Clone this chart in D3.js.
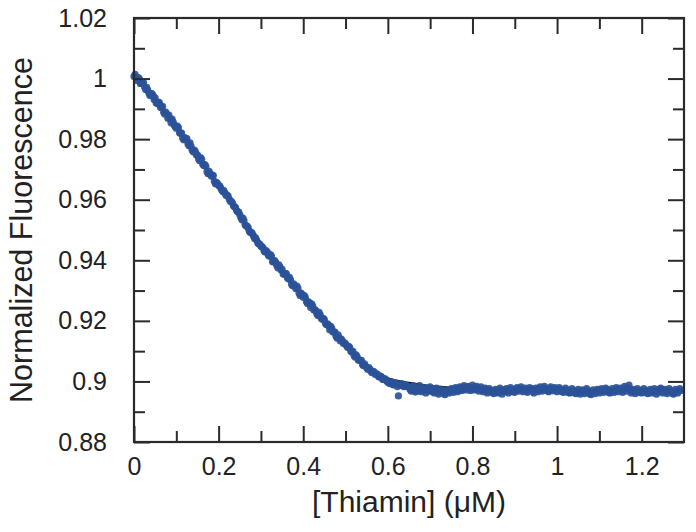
<!DOCTYPE html>
<html>
<head>
<meta charset="utf-8">
<script src="https://cdn.jsdelivr.net/npm/d3@7/dist/d3.min.js"></script>
<style>
  html, body { margin: 0; padding: 0; background: #fff; }
  svg { display: block; }
  text { font-family: "Liberation Sans", Arial, Helvetica, sans-serif; fill: #222; }
</style>
</head>
<body>
<svg id="chart" width="696" height="532"></svg>
<script>
// ---------- data ----------
const xStep = 0.005;          // titration step (µM)
// readings at 0, 0.005, 0.010, ...
const measured = [
  1.0007, 1.0005, 1.0003, 0.9984, 0.9984, 0.9972, 0.9971, 0.9952, 0.9947, 0.9944,
  0.9936, 0.9918, 0.9921, 0.9905, 0.9889, 0.9889, 0.9869, 0.9868, 0.9866, 0.9847,
  0.9836, 0.9838, 0.9820, 0.9804, 0.9805, 0.9802, 0.9778, 0.9776, 0.9758, 0.9759,
  0.9748, 0.9729, 0.9733, 0.9713, 0.9710, 0.9686, 0.9686, 0.9681, 0.9661, 0.9657,
  0.9647, 0.9639, 0.9627, 0.9622, 0.9615, 0.9602, 0.9595, 0.9580, 0.9574, 0.9560,
  0.9551, 0.9534, 0.9531, 0.9513, 0.9507, 0.9492, 0.9488, 0.9472, 0.9466, 0.9455,
  0.9446, 0.9441, 0.9427, 0.9427, 0.9413, 0.9414, 0.9397, 0.9393, 0.9375, 0.9378,
  0.9370, 0.9354, 0.9356, 0.9339, 0.9335, 0.9316, 0.9316, 0.9315, 0.9292, 0.9292,
  0.9278, 0.9278, 0.9257, 0.9259, 0.9256, 0.9236, 0.9233, 0.9218, 0.9221, 0.9205,
  0.9204, 0.9187, 0.9185, 0.9182, 0.9163, 0.9163, 0.9143, 0.9144, 0.9140, 0.9125,
  0.9124, 0.9112, 0.9112, 0.9098, 0.9086, 0.9088, 0.9071, 0.9070, 0.9056, 0.9058,
  0.9045, 0.9046, 0.9034, 0.9033, 0.9024, 0.9024, 0.9015, 0.9015, 0.9007, 0.9006,
  0.8998, 0.8993, 0.8998, 0.8989, 0.8993, 0.8952, 0.8987, 0.8991, 0.8985, 0.8986,
  0.8982, 0.8968, 0.8985, 0.8965, 0.8978, 0.8986, 0.8966, 0.8980, 0.8962, 0.8978,
  0.8982, 0.8966, 0.8962, 0.8978, 0.8958, 0.8975, 0.8964, 0.8956, 0.8972, 0.8962,
  0.8976, 0.8964, 0.8980, 0.8966, 0.8982, 0.8970, 0.8986, 0.8972, 0.8984, 0.8970,
  0.8988, 0.8972, 0.8984, 0.8968, 0.8982, 0.8966, 0.8978, 0.8962, 0.8976, 0.8964,
  0.8960, 0.8974, 0.8962, 0.8978, 0.8958, 0.8972, 0.8976, 0.8962, 0.8980, 0.8966,
  0.8964, 0.8980, 0.8968, 0.8982, 0.8966, 0.8978, 0.8964, 0.8980, 0.8976, 0.8962,
  0.8978, 0.8966, 0.8982, 0.8968, 0.8984, 0.8972, 0.8966, 0.8982, 0.8969, 0.8980,
  0.8966, 0.8980, 0.8968, 0.8964, 0.8978, 0.8966, 0.8962, 0.8976, 0.8964, 0.8960,
  0.8974, 0.8958, 0.8972, 0.8960, 0.8976, 0.8962, 0.8956, 0.8972, 0.8960, 0.8974,
  0.8962, 0.8976, 0.8964, 0.8978, 0.8966, 0.8962, 0.8976, 0.8964, 0.8980, 0.8966,
  0.8978, 0.8964, 0.8984, 0.8968, 0.8988, 0.8962, 0.8974, 0.8960, 0.8976, 0.8964,
  0.8962, 0.8976, 0.8964, 0.8960, 0.8974, 0.8962, 0.8976, 0.8958, 0.8972, 0.8978,
  0.8962, 0.8974, 0.8960, 0.8976, 0.8964, 0.8958, 0.8974, 0.8962, 0.8976
];
// readings at 0.0025, 0.0075, 0.0125, ...
const measuredMid = [
  1.0014, 0.9994, 1.0000, 0.9984, 0.9987, 0.9964, 0.9962, 0.9944, 0.9950, 0.9931,
  0.9919, 0.9922, 0.9905, 0.9908, 0.9883, 0.9882, 0.9879, 0.9854, 0.9857, 0.9841,
  0.9843, 0.9821, 0.9820, 0.9798, 0.9799, 0.9785, 0.9788, 0.9763, 0.9764, 0.9748,
  0.9735, 0.9739, 0.9717, 0.9716, 0.9692, 0.9694, 0.9678, 0.9680, 0.9653, 0.9653,
  0.9646, 0.9631, 0.9630, 0.9615, 0.9612, 0.9595, 0.9590, 0.9577, 0.9564, 0.9559,
  0.9541, 0.9539, 0.9517, 0.9513, 0.9496, 0.9492, 0.9480, 0.9474, 0.9457, 0.9453,
  0.9445, 0.9431, 0.9432, 0.9417, 0.9419, 0.9395, 0.9399, 0.9383, 0.9385, 0.9368,
  0.9355, 0.9356, 0.9342, 0.9344, 0.9320, 0.9322, 0.9306, 0.9308, 0.9284, 0.9287,
  0.9283, 0.9264, 0.9263, 0.9244, 0.9249, 0.9237, 0.9222, 0.9228, 0.9209, 0.9208,
  0.9191, 0.9190, 0.9171, 0.9175, 0.9163, 0.9149, 0.9154, 0.9134, 0.9134, 0.9127,
  0.9118, 0.9116, 0.9100, 0.9099, 0.9081, 0.9081, 0.9070, 0.9070, 0.9052, 0.9050,
  0.9040, 0.9041, 0.9029, 0.9032, 0.9024, 0.9017, 0.9018, 0.9007, 0.9009, 0.9001,
  0.8995, 0.8999, 0.8989, 0.8995, 0.8983, 0.8990, 0.8992, 0.8983, 0.8987, 0.8982,
  0.8974, 0.8980, 0.8970, 0.8976, 0.8968, 0.8974, 0.8978, 0.8970, 0.8975, 0.8969,
  0.8970, 0.8975, 0.8968, 0.8964, 0.8970, 0.8966, 0.8960, 0.8968, 0.8965, 0.8970,
  0.8970, 0.8974, 0.8971, 0.8976, 0.8974, 0.8978, 0.8975, 0.8980, 0.8976, 0.8979,
  0.8980, 0.8976, 0.8978, 0.8974, 0.8972, 0.8974, 0.8969, 0.8971, 0.8968, 0.8970,
  0.8967, 0.8966, 0.8970, 0.8968, 0.8966, 0.8970, 0.8969, 0.8973, 0.8970, 0.8972,
  0.8972, 0.8974, 0.8975, 0.8972, 0.8971, 0.8969, 0.8973, 0.8971, 0.8967, 0.8970,
  0.8972, 0.8975, 0.8974, 0.8977, 0.8976, 0.8969, 0.8975, 0.8976, 0.8973, 0.8972,
  0.8974, 0.8972, 0.8966, 0.8971, 0.8970, 0.8963, 0.8969, 0.8970, 0.8962, 0.8967,
  0.8966, 0.8965, 0.8967, 0.8968, 0.8969, 0.8960, 0.8964, 0.8966, 0.8968, 0.8969,
  0.8969, 0.8970, 0.8971, 0.8972, 0.8964, 0.8969, 0.8970, 0.8972, 0.8973, 0.8971,
  0.8970, 0.8974, 0.8976, 0.8978, 0.8975, 0.8968, 0.8967, 0.8968, 0.8970, 0.8966,
  0.8969, 0.8970, 0.8962, 0.8967, 0.8968, 0.8969, 0.8966, 0.8965, 0.8975, 0.8970,
  0.8968, 0.8967, 0.8968, 0.8970, 0.8961, 0.8966, 0.8968, 0.8969, 0.8970
];

const fitX = [0, 0.05, 0.1, 0.15, 0.2, 0.25, 0.3, 0.35, 0.4, 0.45, 0.5, 0.55, 0.6, 0.65, 0.7, 0.8, 0.9, 1.0, 1.1, 1.2, 1.3];
const fitY = [1.0015, 0.9930, 0.9840, 0.9745, 0.9645, 0.9548, 0.9452, 0.9365, 0.9280, 0.9200, 0.9115, 0.9048, 0.9010, 0.8995, 0.8985, 0.8976, 0.8973, 0.8971, 0.8970, 0.8969, 0.8968];

const xMajorTicks = [0, 0.2, 0.4, 0.6, 0.8, 1.0, 1.2];
const xMinorTicks = [0.1, 0.3, 0.5, 0.7, 0.9, 1.1];
const yMajorTicks = [0.88, 0.90, 0.92, 0.94, 0.96, 0.98, 1.00, 1.02];
const yMinorTicks = [0.89, 0.91, 0.93, 0.95, 0.97, 0.99, 1.01];

const xLabel = "[Thiamin] (\u03BCM)";
const yLabel = "Normalized Fluorescence";

// ---------- layout ----------
const L = 134, R = 684, T = 18, B = 442;
const svg = d3.select("#chart");

const x = d3.scaleLinear().domain([0, 1.3]).range([L, R]);
const y = d3.scaleLinear().domain([0.88, 1.02]).range([B, T]);

const points = measured.map((v, i) => ({ x: i * xStep, y: v }))
  .concat(measuredMid.map((v, i) => ({ x: i * xStep + xStep / 2, y: v })));
const fit = fitX.map((v, i) => ({ x: v, y: fitY[i] }));

const axisColor = "#2a2a2a";
const majorLen = 16, minorLen = 11;

// fit line
svg.append("path")
  .datum(fit)
  .attr("fill", "none")
  .attr("stroke", "#111")
  .attr("stroke-width", 2.2)
  .attr("d", d3.line().x(d => x(d.x)).y(d => y(d.y)).curve(d3.curveMonotoneX));

// data points
svg.append("g")
  .selectAll("circle")
  .data(points)
  .join("circle")
  .attr("cx", d => x(d.x))
  .attr("cy", d => y(d.y))
  .attr("r", 3.6)
  .attr("fill", "#2b5398")
  .attr("fill-opacity", 0.92);

// axes (inward ticks on all four sides)
function styleAxis(g) {
  g.select(".domain").remove();
  g.selectAll(".tick line").attr("stroke", axisColor).attr("stroke-width", 2);
  g.selectAll(".tick text").attr("fill", "#222").style("font-size", "25px")
    .style("font-family", '"Liberation Sans", Arial, sans-serif');
}

// bottom
svg.append("g").attr("transform", `translate(0,${B})`)
  .call(d3.axisBottom(x).tickValues(xMajorTicks).tickSizeInner(-majorLen).tickSizeOuter(0).tickPadding(15)
    .tickFormat(d => d3.format("")(+d.toFixed(1))))
  .call(styleAxis);
svg.append("g").attr("transform", `translate(0,${B})`)
  .call(d3.axisBottom(x).tickValues(xMinorTicks).tickSizeInner(-minorLen).tickSizeOuter(0).tickFormat(""))
  .call(styleAxis);
// top
svg.append("g").attr("transform", `translate(0,${T})`)
  .call(d3.axisTop(x).tickValues(xMajorTicks).tickSizeInner(-majorLen).tickSizeOuter(0).tickFormat(""))
  .call(styleAxis);
svg.append("g").attr("transform", `translate(0,${T})`)
  .call(d3.axisTop(x).tickValues(xMinorTicks).tickSizeInner(-minorLen).tickSizeOuter(0).tickFormat(""))
  .call(styleAxis);
// left
svg.append("g").attr("transform", `translate(${L},0)`)
  .call(d3.axisLeft(y).tickValues(yMajorTicks).tickSizeInner(-majorLen).tickSizeOuter(0).tickPadding(27)
    .tickFormat(d => d3.format("")(+d.toFixed(2))))
  .call(styleAxis);
svg.append("g").attr("transform", `translate(${L},0)`)
  .call(d3.axisLeft(y).tickValues(yMinorTicks).tickSizeInner(-minorLen).tickSizeOuter(0).tickFormat(""))
  .call(styleAxis);
// right
svg.append("g").attr("transform", `translate(${R},0)`)
  .call(d3.axisRight(y).tickValues(yMajorTicks).tickSizeInner(-majorLen).tickSizeOuter(0).tickFormat(""))
  .call(styleAxis);
svg.append("g").attr("transform", `translate(${R},0)`)
  .call(d3.axisRight(y).tickValues(yMinorTicks).tickSizeInner(-minorLen).tickSizeOuter(0).tickFormat(""))
  .call(styleAxis);

// frame
svg.append("rect")
  .attr("x", L).attr("y", T).attr("width", R - L).attr("height", B - T)
  .attr("fill", "none").attr("stroke", axisColor).attr("stroke-width", 2.2);

// axis titles
svg.append("text")
  .attr("x", (L + R) / 2).attr("y", 512)
  .attr("text-anchor", "middle")
  .style("font-size", "30px")
  .text(xLabel);

svg.append("text")
  .attr("transform", `translate(32,${(T + B) / 2}) rotate(-90)`)
  .attr("text-anchor", "middle")
  .style("font-size", "30.5px")
  .text(yLabel);
</script>
</body>
</html>
